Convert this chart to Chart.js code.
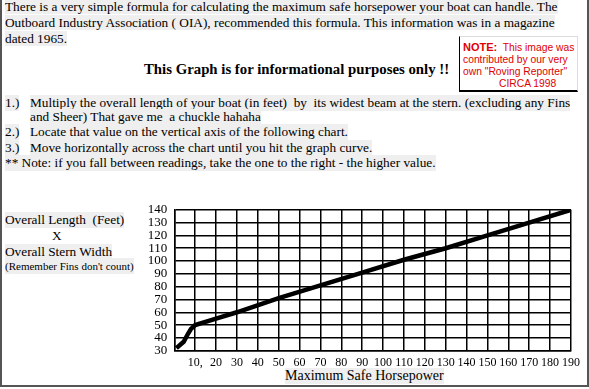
<!DOCTYPE html>
<html>
<head>
<meta charset="utf-8">
<script src="https://cdn.jsdelivr.net/npm/chart.js@4/dist/chart.umd.min.js"></script>
<style>
    html, body { margin: 0; padding: 0; background: #fff; }
    #page {
        position: relative;
        width: 589px;
        height: 389px;
        overflow: hidden;
        font-family: "Liberation Serif", "Times New Roman", serif;
        color: #000;
    }
    #frame {
        position: absolute;
        left: 0; top: -2px;
        width: 589px; height: 389px;
        box-sizing: border-box;
        border: 2px solid #555;
        pointer-events: none;
    }
    .txt { position: absolute; white-space: pre; font-size: 13.3px; line-height: 16px; }
    .hl { background: #efefef; }
    #intro { left: 5px; top: -1px; font-size: 13.3px; }
    #heading { left: 144px; top: 61px; font-size: 14.8px; font-weight: bold; }
    #note {
        position: absolute;
        left: 459px; top: 36px;
        width: 119px; height: 56px;
        box-sizing: border-box;
        border-left: 1px solid #000;
        border-bottom: 2px solid #000;
        border-top: 1px solid #ddd;
        border-right: 1px solid #ddd;
        font-family: "Liberation Sans", Arial, sans-serif;
        font-size: 10.3px;
        line-height: 12px;
        color: #e00000;
        padding: 4px 0 0 3px;
        white-space: pre;
    }
    #chartBox { position: absolute; left: 130px; top: 195px; width: 455px; height: 178px; }
    #xTitle { left: 285px; top: 368px; font-size: 14px; }
</style>
</head>
<body>
<div id="page">
    <div id="intro" class="txt"><span class="hl">There is a very simple formula for calculating the maximum safe horsepower your boat can handle. The</span>
<span class="hl">Outboard Industry Association ( OIA), recommended this formula. This information was in a magazine</span>
<span class="hl">dated 1965.</span></div>

    <div id="note"><b style="font-size:11px">NOTE:</b>  This image was
contributed by our very
own "Roving Reporter"
<span style="padding-left:36px">CIRCA 1998</span></div>

    <div id="heading" class="txt">This Graph is for informational purposes only !!</div>

    <div class="txt hl" style="left:5px; top:95px;">1.)</div>
    <div class="txt hl" style="left:30px; top:95px;">Multiply the overall length of your boat (in feet)  by  its widest beam at the stern. (excluding any Fins</div>
    <div class="txt hl" style="left:30px; top:109px;">and Sheer) That gave me  a chuckle hahaha</div>
    <div class="txt hl" style="left:5px; top:124px;">2.)</div>
    <div class="txt hl" style="left:30px; top:124px;">Locate that value on the vertical axis of the following chart.</div>
    <div class="txt hl" style="left:5px; top:140px;">3.)</div>
    <div class="txt hl" style="left:30px; top:140px;">Move horizontally across the chart until you hit the graph curve.</div>
    <div class="txt hl" style="left:5px; top:155px;">** Note: if you fall between readings, take the one to the right - the higher value.</div>

    <div class="txt hl" style="left:5px; top:212px;">Overall Length  (Feet)</div>
    <div class="txt" style="left:52px; top:228px;">X</div>
    <div class="txt hl" style="left:5px; top:244px;">Overall Stern Width</div>
    <div class="txt hl" style="left:5px; top:258px; font-size:11px;">(Remember Fins don't count)</div>

    <div id="chartBox"><canvas id="hpChart"></canvas></div>
    <div id="xTitle" class="txt hl">Maximum Safe Horsepower</div>

    <div id="frame"></div>
</div>

<script>
// values: horsepower vs (length x stern width)
const horsepower = [1, 4.5, 6.5, 8, 10, 20, 30, 50, 70, 90, 110, 130, 150, 170, 190];
const lengthTimesWidth = [32, 37, 43, 47, 50, 55, 60, 71, 81, 91, 101, 110, 120, 130, 140];

const xMin = 0, xMax = 190, xStep = 10;
const yMin = 30, yMax = 140, yStep = 10;

const curvePoints = horsepower.map((hp, i) => ({ x: hp, y: lengthTimesWidth[i] }));

const hpCtx = document.getElementById('hpChart').getContext('2d');

const hpChart = new Chart(hpCtx, {
    type: 'line',
    data: {
        datasets: [{
            data: curvePoints,
            borderColor: '#000',
            borderWidth: 4.5,
            pointRadius: 0,
            tension: 0,
            fill: false
        }]
    },
    options: {
        responsive: true,
        maintainAspectRatio: false,
        animation: false,
        layout: {
            padding: { top: 7.7, right: 7.3, left: 0, bottom: 0 }
        },
        plugins: {
            legend: { display: false },
            tooltip: { enabled: false }
        },
        scales: {
            x: {
                type: 'linear',
                min: xMin,
                max: xMax,
                afterFit: function(scale) { scale.height = 22.3; },
                afterBuildTicks: function(scale) {
                    const ticks = [];
                    for (let v = xMin; v <= xMax; v += xStep) ticks.push({ value: v });
                    scale.ticks = ticks;
                },
                grid: { color: '#000', lineWidth: 1.5, drawTicks: false },
                border: { display: true, color: '#000', width: 1.5 },
                ticks: {
                    padding: 5,
                    color: '#000',
                    maxRotation: 0,
                    autoSkip: false,
                    font: { family: '"Liberation Serif", "Times New Roman", serif', size: 12 },
                    callback: function(value) {
                        if (value === 0) return '';
                        if (value === 10) return '10,';
                        return value;
                    }
                }
            },
            y: {
                type: 'linear',
                min: yMin,
                max: yMax,
                afterFit: function(scale) { scale.width = 44.3; },
                grid: { color: '#000', lineWidth: 1.5, drawTicks: false },
                border: { display: true, color: '#000', width: 1.5 },
                ticks: {
                    stepSize: yStep,
                    padding: 7,
                    color: '#000',
                    autoSkip: false,
                    font: { family: '"Liberation Serif", "Times New Roman", serif', size: 13 }
                }
            }
        }
    }
});
</script>
</body>
</html>
